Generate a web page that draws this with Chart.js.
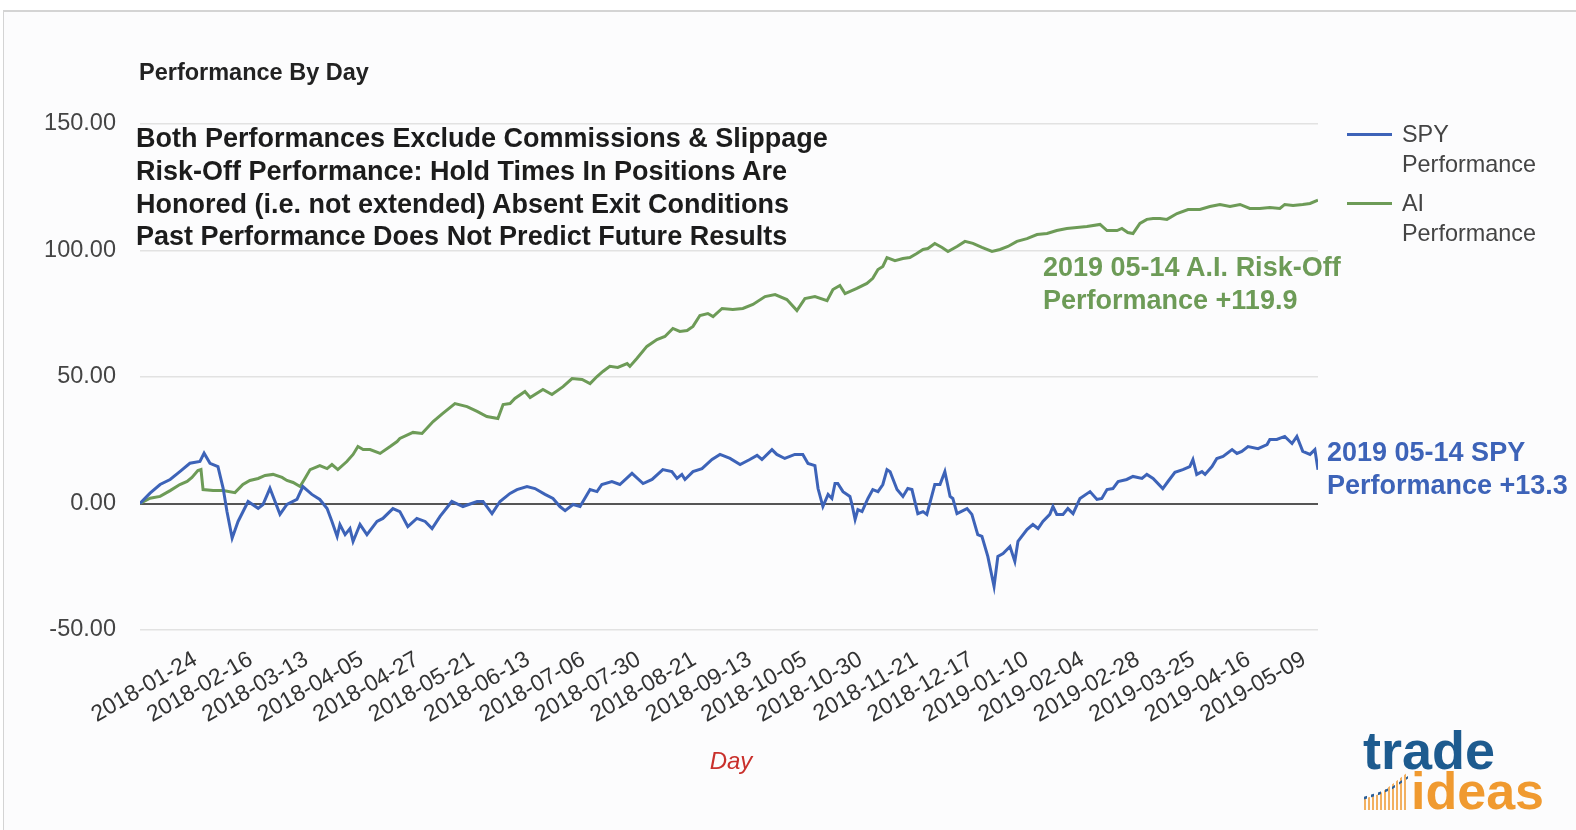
<!DOCTYPE html>
<html>
<head>
<meta charset="utf-8">
<script src="https://cdn.jsdelivr.net/npm/chart.js@4.4.1/dist/chart.umd.min.js"></script>
<style>
  body { margin: 0; background: #fff; font-family: "Liberation Sans", Arial, sans-serif; }
  #wrap { position: relative; width: 1576px; height: 830px; overflow: hidden; }
  #frame { position: absolute; left: 3px; top: 10px; width: 1600px; height: 840px;
           border-top: 2px solid #d4d4d4; border-left: 1px solid #d4d4d4; background: #fcfcfd; }
  canvas { position: absolute; left: 0; top: 0; }
  .txt { position: absolute; white-space: nowrap; }
  .note { font-weight: bold; font-size: 27px; line-height: 32.8px; }
  .legend { font-size: 23.4px; line-height: 30px; color: #444; }
  .legline { position: absolute; width: 45px; height: 3px; }
</style>
</head>
<body>
<div id="wrap">
  <div id="frame"></div>
  <canvas id="chart" width="1576" height="830"></canvas>

  <div class="txt" style="left:139px; top:61px; font-size:23.5px; line-height:1; font-weight:bold; color:#222;">Performance By Day</div>

  <div class="txt note" style="left:136px; top:122px; color:#1c1c1c;">Both Performances Exclude Commissions &amp; Slippage<br>Risk-Off Performance: Hold Times In Positions Are<br>Honored (i.e. not extended) Absent Exit Conditions<br>Past Performance Does Not Predict Future Results</div>

  <div class="txt note" style="left:1043px; top:251px; color:#6d9b57;">2019 05-14 A.I. Risk-Off<br>Performance +119.9</div>
  <div class="txt note" style="left:1327px; top:436px; color:#3d63b8;">2019 05-14 SPY<br>Performance +13.3</div>

  <div class="legline" style="left:1347px; top:133px; background:#3d63b8;"></div>
  <div class="txt legend" style="left:1402px; top:119px;">SPY<br>Performance</div>
  <div class="legline" style="left:1347px; top:202px; background:#6d9b57;"></div>
  <div class="txt legend" style="left:1402px; top:188px;">AI<br>Performance</div>

  <div class="txt" style="left:731px; top:749px; transform:translateX(-50%); font-size:24px; line-height:1; font-style:italic; color:#c9302c;">Day</div>

  <div class="txt" style="left:1363px; top:723px; font-size:54px; line-height:1; font-weight:bold; color:#1d5b8f;">trade</div>
  <div style="position:absolute; left:1364px; top:770px; width:44px; height:40px;
              background: repeating-linear-gradient(90deg, #f2b060 0 2px, transparent 2px 4px);
              clip-path: polygon(0 72%, 35% 60%, 65% 35%, 100% 5%, 100% 100%, 0 100%);"></div>
  <div style="position:absolute; left:1364px; top:776px; width:44px; height:26px;
              background: repeating-linear-gradient(90deg, #2c5f97 0 3px, transparent 3px 7px);
              clip-path: polygon(0 80%, 35% 62%, 65% 40%, 100% 0, 100% 10%, 65% 50%, 35% 72%, 0 90%);"></div>
  <div class="txt" style="left:1411px; top:765px; font-size:52px; line-height:1; font-weight:bold; color:#f09a30;">ideas</div>
</div>

<script>
// trading-day index (x) and cumulative performance (y)
var spyDays = [0,2.9,5.8,8.7,11.5,14.4,17.3,18.5,20.2,22.5,
  24,25.1,26.6,28.3,31.2,34.1,35.5,37.5,40.4,42.4,
  45.3,47,49.6,51.9,54,55.4,56.9,57.7,59.2,60.6,
  61.5,63.5,65.5,68.4,70.1,73,75,77.3,79.9,82.3,
  84.3,86.6,90,93.2,97.3,99,101.6,103.9,106.8,108.8,
  111.7,114,116.9,119.2,121.2,122.7,125,127,129.9,131.9,
  133.3,136.2,138.5,142,145.2,147.8,150.9,153.5,155,156.4,
  157.3,159.6,162.2,165.1,167.4,170.3,173.2,176,178.1,179.5,
  182.4,183.8,186.1,189,191.3,192.8,194.8,195.7,197.1,198.6,
  199.7,200.6,201.4,202.9,204.9,205.5,206.4,207.2,208.4,210.1,
  211.5,213,214.4,215.6,216.5,218.5,220.2,221.6,222.8,224.5,
  226,227.1,229.4,230.9,232.3,233.8,234.6,235.8,238.7,240.1,
  241.8,243,244.7,246.5,247.6,249.1,251.1,252.5,253.4,256,
  257.7,259.2,260.6,262.6,263.5,264.6,266.4,267.8,269.3,271.3,
  274.2,276.2,277.6,279.1,280.8,282.3,284.8,286.6,289.2,290.6,
  292.4,295.2,296.7,298.7,301,303,303.9,305,306.5,307.4,
  309.4,310.8,312.6,315.2,316.6,318,319.8,322.7,325.3,326.1,
  328.1,330.4,332.5,333.9,335.6,337.7,339.1,340];
var spyValues = [0,4.1,7.5,9.5,12.6,15.9,16.6,19.9,15.9,14.6,
  6,-3.2,-13.7,-7.1,0.8,-1.9,-0.4,6,-4.3,-0.4,
  1.6,6.7,3.6,1.6,-2,-7.1,-13,-8.3,-12.3,-9.9,
  -15,-8.3,-12.3,-7.1,-5.9,-2,-3.2,-9.1,-5.9,-7.1,
  -9.9,-5.1,0.8,-1.2,0.8,0.8,-4,0.8,4,5.5,
  6.7,5.9,3.6,2,-1.2,-2.8,-0.4,-1.2,5.5,4.7,
  7.5,8.7,7.5,11.9,7.9,9.5,13.4,12.6,9.9,11.5,
  9.5,12.6,13.8,17.4,19.4,17.8,15.4,17.4,19,17.4,
  21.3,19.4,17.8,19.4,19.4,15.8,15,5.9,-1.2,3.6,
  2,7.9,7.9,4.7,2.8,-0.4,-6.3,-2.4,-3.2,2,
  5.5,4.7,7.5,13.4,12.6,5.5,2.8,5.9,5.5,-4,
  -3.2,-4.3,7.5,7.5,12.6,2.8,2,-4,-2,-4.3,
  -12.3,-13,-20.9,-32.8,-20.9,-19.8,-17,-22.9,-15,-10.3,
  -8.3,-9.9,-7.1,-4.3,-1.2,-4.3,-4.3,-2,-4,2,
  4.7,1.6,2,5.5,5.9,8.7,9.5,10.7,9.9,11.5,
  9.9,5.9,8.7,12.3,13.4,14.6,17.4,11.5,12.6,11.5,
  14.6,17.8,18.6,21.3,19.8,20.6,22.5,21.7,23.3,25.3,
  25.3,26.5,23.7,26.5,20.6,19.4,21.3,13.3];

var aiDays = [0,2.9,5.8,8.7,11.5,13.6,15,16.7,17.6,18.2,
  21.1,24,27.4,29.7,31.7,34.1,36.1,38.4,41,42.4,
  44.2,46.2,47.6,49.1,51.9,54,55.4,57.1,59.7,61.5,
  62.9,64.4,66.4,69.3,72.2,74.2,75,78.8,81.4,84.6,
  87.4,90.9,94.4,97.3,100.1,103.3,104.8,106.8,108.2,111.1,
  112.6,116.3,118.9,122.1,124.7,127.6,129.9,131.9,133.6,135.6,
  137.9,140.6,141.4,143.4,146.3,149.2,151.5,153.8,155.8,157.9,
  159.6,161.6,163.9,165.4,168,171.1,174,176.9,180.4,183.3,
  186.7,189.6,191.9,194.8,198.3,200,202,203.5,206.9,209.8,
  211.5,213,214.4,215.6,217.9,220.2,222.2,224.2,226,227.4,
  229.4,231.5,233.2,235.8,238.1,240.4,243,245.9,248.2,250.5,
  253.1,256,258.9,261.8,264.6,267.5,270.4,273.3,277.1,279.1,
  282,283.4,285.1,286.6,288.6,290.6,292.4,294.4,296.4,299.3,
  302.5,305.9,308.8,311.7,314.6,317.5,320.3,323.2,326.1,329,
  330.4,332.8,335.6,337.7,340];
var aiValues = [0,2.1,2.8,5.1,7.5,8.7,10.3,13,13.4,5.5,
  5.1,5.1,4.3,7.5,9.1,9.9,11.1,11.5,10.3,9.1,
  8.3,6.7,9.9,13.4,15,13.8,15.4,13.4,16.6,19.4,
  22.5,21.3,21.3,19.8,22.5,24.5,25.7,28.1,27.7,32.4,
  35.6,39.5,38.3,36.4,34.4,33.6,39.1,39.5,41.5,44.3,
  41.9,45.1,43.1,46.2,49.4,49,47.4,50.2,52.2,54.2,
  53.8,55.3,54.2,57.3,62.1,64.8,66,69.2,68,68.4,
  70,74.3,75.1,73.9,77.1,76.7,77.1,78.7,81.8,82.6,
  80.6,76.3,81,81.8,80.2,84.6,86.2,83,85,87,
  89,92.5,93.7,97.2,96,96.8,97.2,98.8,100.4,100.8,
  102.8,101.2,99.6,101.6,103.6,102.8,101.2,99.6,100.4,101.6,
  103.6,104.7,106.3,106.7,107.9,108.7,109.1,109.5,110.3,107.9,
  107.9,108.7,107.1,106.7,110.7,112.3,112.6,112.6,112.3,114.6,
  116.2,116.2,117.4,118.2,117.4,118.2,116.6,116.6,117,116.6,
  118.2,117.8,118.2,118.6,119.9];

var tickDays = [16,32,48,64,80,96,112,128,144,160,176,192,208,224,240,256,272,288,304,320,336];
var tickLabels = ['2018-01-24','2018-02-16','2018-03-13','2018-04-05','2018-04-27','2018-05-21',
  '2018-06-13','2018-07-06','2018-07-30','2018-08-21','2018-09-13','2018-10-05','2018-10-30',
  '2018-11-21','2018-12-17','2019-01-10','2019-02-04','2019-02-28','2019-03-25','2019-04-16','2019-05-09'];
var yTicks = [-50, 0, 50, 100, 150];

var fontFamily = '"Liberation Sans", Arial, sans-serif';

function toPoints(days, values) {
  return days.map(function (d, i) {
    return { x: d, y: values[i] };
  });
}

var ctx = document.getElementById('chart').getContext('2d');
new Chart(ctx, {
  type: 'line',
  data: {
    datasets: [{
      label: 'SPY Performance',
      data: toPoints(spyDays, spyValues),
      borderColor: '#3d63b8',
      borderWidth: 3,
      pointRadius: 0,
      tension: 0
    }, {
      label: 'AI Performance',
      data: toPoints(aiDays, aiValues),
      borderColor: '#6d9b57',
      borderWidth: 3,
      pointRadius: 0,
      tension: 0
    }]
  },
  options: {
    responsive: false,
    animation: false,
    layout: { padding: { left: 0, right: 258, top: 124, bottom: 0 } },
    plugins: {
      legend: { display: false },
      tooltip: { enabled: false }
    },
    scales: {
      x: {
        type: 'linear',
        min: 0,
        max: 340,
        afterBuildTicks: function (axis) {
          axis.ticks = tickDays.map(function (v) { return { value: v }; });
        },
        afterFit: function (scale) { scale.height = 200; },
        grid: { display: false },
        border: { display: false },
        ticks: {
          autoSkip: false,
          minRotation: 30,
          maxRotation: 30,
          padding: 8,
          color: '#333',
          font: { family: fontFamily, size: 23 },
          callback: function (v) { return tickLabels[tickDays.indexOf(v)]; }
        }
      },
      y: {
        min: -50,
        max: 150,
        afterBuildTicks: function (axis) {
          axis.ticks = yTicks.map(function (v) { return { value: v }; });
        },
        afterFit: function (scale) { scale.width = 140; },
        grid: {
          drawTicks: false,
          color: function (c) { return c.tick.value === 0 ? '#555' : '#e2e2e2'; },
          lineWidth: function (c) { return c.tick.value === 0 ? 2 : 1.5; }
        },
        border: { display: false },
        ticks: {
          padding: 24,
          color: '#444',
          font: { family: fontFamily, size: 23.5 },
          callback: function (v) { return v.toFixed(2); }
        }
      }
    }
  }
});
</script>
</body>
</html>
